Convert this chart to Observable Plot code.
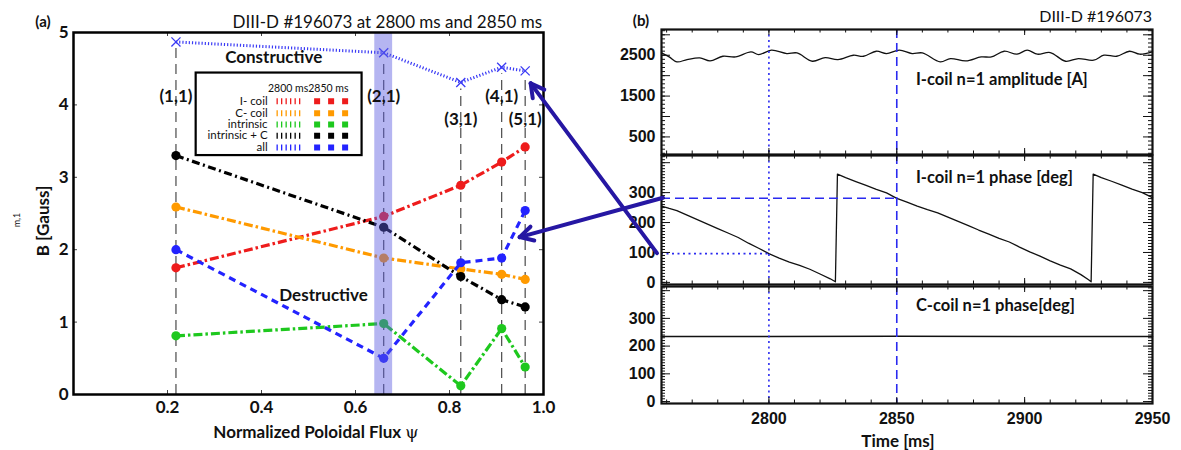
<!DOCTYPE html>
<html><head><meta charset="utf-8">
<script src="https://cdn.jsdelivr.net/npm/d3@7"></script>
<script src="https://cdn.jsdelivr.net/npm/@observablehq/plot@0.6"></script>
<style>
body{margin:0;background:#fff;}
#wrap{position:relative;width:1181px;height:450px;overflow:hidden;background:#fff;font-family:Lato,"Open Sans",sans-serif;}
.t{position:absolute;white-space:nowrap;line-height:1;}
</style></head><body><div id="wrap"></div>
<script>
// ---------- data: panel (a) ----------
const psi = [0.218, 0.66, 0.824, 0.911, 0.961];
const modeLabels = ["(1,1)", "(2,1)", "(3,1)", "(4,1)", "(5,1)"];
const all2800 = [4.87, 4.72, 4.31, 4.52, 4.47];
const icoil2850 = [1.75, 2.46, 2.89, 3.21, 3.42];
const ccoil2850 = [2.59, 1.885, 1.735, 1.66, 1.59];
const intrinsic2850 = [0.81, 0.98, 0.12, 0.91, 0.38];
const intrC2850 = [3.30, 2.31, 1.63, 1.31, 1.21];
const all2850 = [2.00, 0.50, 1.82, 1.885, 2.54];
const legendNames = ["I- coil", "C- coil", "intrinsic", "intrinsic + C", "all"];
const xTicksA = [0.2, 0.4, 0.6, 0.8, 1.0];
const yTicksA = [0, 1, 2, 3, 4, 5];

// ---------- data: panel (b) ----------
const ampTime = [2758,2761,2764,2768,2773,2777,2782,2787,2793,2796,2801,2807,2811,2817,2822,2827,2833,2837,2842,2846,2851,2856,2860,2867,2871,2877,2883,2887,2892,2897,2901,2905,2910,2916,2921,2927,2931,2936,2941,2945,2950];
const ampVal  = [2557,2459,2337,2394,2435,2361,2475,2459,2582,2516,2623,2541,2557,2353,2443,2394,2500,2475,2598,2541,2623,2541,2557,2337,2418,2361,2459,2459,2598,2525,2623,2525,2565,2353,2418,2378,2500,2475,2598,2525,2582];
const phaseTime = [2758,2761,2764,2768,2772,2776,2780,2784,2788,2792,2796,2800,2804,2808,2812,2816,2820,2824,2826,2826.8,2830,2834,2838,2842,2846,2850,2854,2858,2862,2866,2870,2874,2878,2882,2886,2890,2894,2898,2902,2906,2910,2914,2918,2922,2925,2926,2926.8,2930,2934,2938,2942,2946,2950];
const phaseVal  = [255,247,240,225,210,195,180,165,150,131,114,96,81,68,57,44,28,12,2,362,350,337,324,311,299,281,268,255,243,232,218,204,190,175,161,147,135,118,102,88,72,58,45,26,9,2,362,350,338,325,312,300,283];
const cTime = [2758, 2800, 2850, 2900, 2950];
const cVal  = [235, 235, 236, 235, 235];
const markTimes = [2800, 2850];
const markPhase = [96, 281];
const ampTicks = [500, 1500, 2500];
const phaseTicks = [0, 100, 200, 300];
const timeTicks = [2800, 2850, 2900, 2950];

// ---------- helpers ----------
const wrap = document.getElementById("wrap");
function put(el, left, top) {
  el.style.position = "absolute"; el.style.left = left + "px"; el.style.top = top + "px";
  wrap.appendChild(el); return el;
}
function label(html, x, y, css, tf) {
  const d = document.createElement("div");
  d.className = "t"; d.innerHTML = html;
  Object.assign(d.style, css);
  d.style.left = x + "px"; d.style.top = y + "px";
  d.style.transform = tf || "translate(-50%,-50%)";
  wrap.appendChild(d); return d;
}

// ---------- panel (a) ----------
const A = {w: 560, h: 450, ml: 73, mr: 17, mt: 32, mb: 56};
const aPxW = A.w - A.ml - A.mr, aPxH = A.h - A.mt - A.mb;
const series = [
  {name: "I- coil", color: "#ee1c1c", vals: icoil2850, dash: "9,3,2.5,3"},
  {name: "C- coil", color: "#ff9a00", vals: ccoil2850, dash: "9,3,2.5,3"},
  {name: "intrinsic", color: "#1ec81e", vals: intrinsic2850, dash: "9,3,2.5,3"},
  {name: "intrinsic + C", color: "#000000", vals: intrC2850, dash: "8,3.5,2,3.5"},
  {name: "all", color: "#2323ff", vals: all2850, dash: "7,5"}
];
const blue2800 = "#3a3af5";
const rows2800 = psi.map((x, i) => ({x, y: all2800[i]}));
const tkX = 4 / aPxW * 1, tkY = 4 / aPxH * 5;

const legendRowY = [4.05, 3.886, 3.73, 3.575, 3.41];
const legendRows = legendNames.map((n, i) => ({n, y: legendRowY[i], c: series[i].color}));

const marksA = [
  // vertical mode guides
  Plot.ruleX(psi.map((x, i) => ({x, top: all2800[i] - 0.09})), {x: "x", y1: 0, y2: "top", stroke: "#4a4a4a", strokeWidth: 1.2, strokeDasharray: "10,6"}),
  // 2800 ms "all"
  Plot.line(rows2800, {x: "x", y: "y", stroke: blue2800, strokeWidth: 3, strokeDasharray: "1.2,2", strokeLinecap: "butt", strokeLinejoin: "miter"}),
  Plot.dot(rows2800, {x: "x", y: "y", symbol: "times", r: 4.2, stroke: blue2800, strokeWidth: 1.3}),
];
for (const s of series) {
  const rows = psi.map((x, i) => ({x, y: s.vals[i]}));
  marksA.push(Plot.line(rows, {x: "x", y: "y", stroke: s.color, strokeWidth: 3.2, strokeDasharray: s.dash, strokeLinecap: "butt", strokeLinejoin: "miter"}));
  marksA.push(Plot.dot(rows, {x: "x", y: "y", r: 4.6, fill: s.color}));
}
marksA.push(
  // highlighted (2,1) band
  Plot.rect([{x1: 0.641, x2: 0.679}], {x1: "x1", x2: "x2", y1: 0, y2: 5, fill: "#5a5ae0", fillOpacity: 0.45}),
  // inward ticks
  Plot.ruleX(xTicksA, {y1: 0, y2: tkY, stroke: "#444", strokeWidth: 1}),
  Plot.ruleX(xTicksA, {y1: 5 - tkY, y2: 5, stroke: "#444", strokeWidth: 1}),
  Plot.ruleY([1, 2, 3, 4], {x1: 0, x2: tkX, stroke: "#444", strokeWidth: 1}),
  Plot.ruleY([1, 2, 3, 4], {x1: 1 - tkX, x2: 1, stroke: "#444", strokeWidth: 1}),
  // mode labels
  Plot.text(modeLabels.map((t, i) => ({t, x: psi[i], y: [4.12, 4.12, 3.80, 4.11, 3.80][i]})),
    {x: "x", y: "y", text: "t", fontSize: 17, fontWeight: "bold", fill: "#111"}),
  Plot.text(["Constructive"], {x: 0.426, y: 4.65, fontSize: 17, fontWeight: "bold", fill: "#111"}),
  Plot.text(["Destructive"], {x: 0.532, y: 1.37, fontSize: 17, fontWeight: "bold", fill: "#111"}),
  // legend
  Plot.rect([0], {x1: 0.261, x2: 0.614, y1: 3.30, y2: 4.44, fill: "white", stroke: "black", strokeWidth: 2.2}),
  Plot.text(["2800 ms2850 ms"], {x: 0.4995, y: 4.22, fontSize: 10.5, fontWeight: "normal", fill: "#111"}),
  Plot.text(legendRows, {x: 0.413, y: "y", text: "n", textAnchor: "end", fontSize: 11.5, fontWeight: "normal", fill: "#111"}),
  Plot.ruleY(legendRows, {y: "y", x1: 0.433, x2: 0.49, stroke: "c", strokeWidth: 6, strokeDasharray: "1.3,3.2"}),
  Plot.ruleY(legendRows, {y: "y", x1: 0.513, x2: 0.586, stroke: "c", strokeWidth: 6, strokeDasharray: "6,8"}),
  Plot.frame({stroke: "black", strokeWidth: 2.5})
);

const plotA = Plot.plot({
  width: A.w, height: A.h, marginLeft: A.ml, marginRight: A.mr, marginTop: A.mt, marginBottom: A.mb,
  x: {domain: [0, 1], ticks: xTicksA, tickFormat: d3.format(".1f"), tickSize: 0, tickPadding: 6, label: null},
  y: {domain: [0, 5], ticks: yTicksA, tickFormat: d3.format("d"), tickSize: 0, tickPadding: 5, label: null},
  color: {type: "identity"},
  style: {fontFamily: "Lato, 'Open Sans', sans-serif", fontSize: "17px", fontWeight: "bold", background: "transparent", overflow: "visible", color: "#111"},
  marks: marksA
});
put(plotA, 0, 0);

// ---------- panel (b) ----------
const B = {left: 600, w: 581, ml: 61, mr: 29};
const xDomB = [2758, 2950];
const bPxW = B.w - B.ml - B.mr;
const blueB = "#2a2af0";

function frameTicks(yDom, pxH, yMinor, yMajor) {
  const ySpan = yDom[1] - yDom[0], xSpan = xDomB[1] - xDomB[0];
  const tMinor = d3.range(2760, 2950, 10), tMajor = [2800, 2850, 2900];
  const ly = len => len / pxH * ySpan, lx = len => len / bPxW * xSpan;
  const st = {stroke: "#111", strokeWidth: 1};
  return [
    Plot.ruleX(tMinor, {y1: yDom[0], y2: yDom[0] + ly(3.5), ...st}),
    Plot.ruleX(tMinor, {y1: yDom[1] - ly(3.5), y2: yDom[1], ...st}),
    Plot.ruleX(tMajor, {y1: yDom[0], y2: yDom[0] + ly(6), ...st}),
    Plot.ruleX(tMajor, {y1: yDom[1] - ly(6), y2: yDom[1], ...st}),
    Plot.ruleY(yMinor, {x1: xDomB[0], x2: xDomB[0] + lx(4), ...st}),
    Plot.ruleY(yMinor, {x1: xDomB[1] - lx(4), x2: xDomB[1], ...st}),
    Plot.ruleY(yMajor, {x1: xDomB[0], x2: xDomB[0] + lx(9), ...st}),
    Plot.ruleY(yMajor, {x1: xDomB[1] - lx(9), x2: xDomB[1], ...st})
  ];
}
function panelB({top, height, mt, mb, yDom, yTicks, yMinor, yMajor, marks, xAxis}) {
  const pxH = height - mt - mb;
  const p = Plot.plot({
    width: B.w, height, marginLeft: B.ml, marginRight: B.mr, marginTop: mt, marginBottom: mb,
    x: {domain: xDomB, axis: xAxis ? "bottom" : null, ticks: timeTicks, tickFormat: d3.format("d"), tickSize: 0, tickPadding: 9, label: null},
    y: {domain: yDom, ticks: yTicks, tickSize: 0, tickPadding: 6, label: null, tickFormat: d3.format("d")},
    style: {fontFamily: "'Liberation Sans', Arial, sans-serif", fontSize: "16px", fontWeight: "bold", background: "transparent", overflow: "visible", color: "#111"},
    marks: [
      ...marks,
      Plot.ruleX([markTimes[0]], {stroke: blueB, strokeWidth: 1.6, strokeDasharray: "2,3.5"}),
      Plot.ruleX([markTimes[1]], {stroke: blueB, strokeWidth: 1.6, strokeDasharray: "9,5"}),
      ...frameTicks(yDom, pxH, yMinor, yMajor),
      Plot.frame({stroke: "#111", strokeWidth: 2.2})
    ]
  });
  put(p, B.left, top);
  return p;
}

const ampRows = ampTime.map((t, i) => ({t, v: ampVal[i]}));
const phRows = phaseTime.map((t, i) => ({t, v: phaseVal[i]}));
const cRows = cTime.map((t, i) => ({t, v: cVal[i]}));
const txtStyle = {fontFamily: "Lato, 'Open Sans', sans-serif", fontSize: 16.5, fontWeight: "bold", textAnchor: "start", fill: "#111"};

const p1 = panelB({
  top: 0, height: 156, mt: 29, mb: 2, yDom: [70, 3130], yTicks: ampTicks,
  yMinor: d3.range(100, 3101, 100), yMajor: d3.range(500, 3001, 500),
  marks: [
    Plot.line(ampRows, {x: "t", y: "v", stroke: "#111", strokeWidth: 1.3, curve: "catmull-rom"}),
    Plot.text(["I-coil n=1 amplitude [A]"], {x: 2857.5, y: 1890, ...txtStyle})
  ]
});
const p2 = panelB({
  top: 150, height: 140, mt: 5, mb: 6, yDom: [-7, 424], yTicks: phaseTicks,
  yMinor: d3.range(0, 421, 10), yMajor: d3.range(0, 401, 100),
  marks: [
    Plot.line(phRows, {x: "t", y: "v", stroke: "#111", strokeWidth: 1.3}),
    Plot.ruleY([{v: markPhase[0]}], {y: "v", x1: xDomB[0], x2: markTimes[0], stroke: blueB, strokeWidth: 1.6, strokeDasharray: "2,3.5"}),
    Plot.ruleY([{v: markPhase[1]}], {y: "v", x1: xDomB[0], x2: markTimes[1], stroke: blueB, strokeWidth: 1.6, strokeDasharray: "9,5"}),
    Plot.text(["I-coil n=1 phase [deg]"], {x: 2857.5, y: 350, ...txtStyle})
  ]
});
const p3 = panelB({
  top: 280, height: 170, mt: 6, mb: 47, yDom: [-7, 415], yTicks: phaseTicks, xAxis: true,
  yMinor: d3.range(0, 411, 10), yMajor: d3.range(0, 401, 100),
  marks: [
    Plot.line(cRows, {x: "t", y: "v", stroke: "#111", strokeWidth: 1.5}),
    Plot.text(["C-coil n=1 phase[deg]"], {x: 2857.5, y: 345, ...txtStyle})
  ]
});

// ---------- titles & axis labels ----------
label("(a)", 43, 21, {fontSize: "15px", fontWeight: "bold", color: "#111"});
label("DIII-D #196073 at 2800 ms and 2850 ms", 542, 21, {fontSize: "17px", color: "#111"}, "translate(-100%,-50%)");
label("(b)", 641, 20, {fontSize: "15px", fontWeight: "bold", color: "#111"});
label("DIII-D #196073", 1152, 16, {fontSize: "16px", color: "#111"}, "translate(-100%,-50%)");
label("B [Gauss]", 42, 221, {fontSize: "17px", fontWeight: "bold", color: "#111"}, "translate(-50%,-50%) rotate(-90deg)");
label("m,1", 16, 220, {fontSize: "9px", color: "#111"}, "translate(-50%,-50%) rotate(-90deg)");
label("Normalized Poloidal Flux <span style=\"font-weight:normal;font-family:'DejaVu Serif',serif\">\u03c8</span>", 316, 432, {fontSize: "17px", fontWeight: "bold", color: "#111"});
label("Time [ms]", 898, 440, {fontSize: "17px", fontWeight: "bold", color: "#111"});

// ---------- connecting arrows ----------
const ax = plotA.scale("x"), ay = plotA.scale("y");
const p2x = p2.scale("x"), p2y = p2.scale("y");
const last = psi.length - 1;
const arrows = [
  {x0: B.left + p2x.apply(xDomB[0]) - 4, y0: 150 + p2y.apply(markPhase[0]),
   x1: ax.apply(psi[last]) + 6, y1: ay.apply(all2800[last]) + 13},
  {x0: B.left + p2x.apply(xDomB[0]) + 2, y0: 150 + p2y.apply(markPhase[1]),
   x1: ax.apply(psi[last]) - 5, y1: ay.apply(all2850[last]) + 27}
];
const ov = d3.create("svg").attr("width", 1181).attr("height", 450)
  .style("position", "absolute").style("left", "0px").style("top", "0px").style("pointer-events", "none");
const g = ov.append("g").attr("stroke", "#2617a3").attr("stroke-width", 4).attr("stroke-linecap", "round").attr("fill", "none");
for (const a of arrows) {
  g.append("line").attr("x1", a.x0).attr("y1", a.y0).attr("x2", a.x1).attr("y2", a.y1);
  const ang = Math.atan2(a.y0 - a.y1, a.x0 - a.x1);
  for (const s of [-0.5, 0.5]) {
    g.append("line").attr("x1", a.x1).attr("y1", a.y1)
      .attr("x2", a.x1 + 15 * Math.cos(ang + s)).attr("y2", a.y1 + 15 * Math.sin(ang + s));
  }
}
wrap.appendChild(ov.node());
</script></body></html>
